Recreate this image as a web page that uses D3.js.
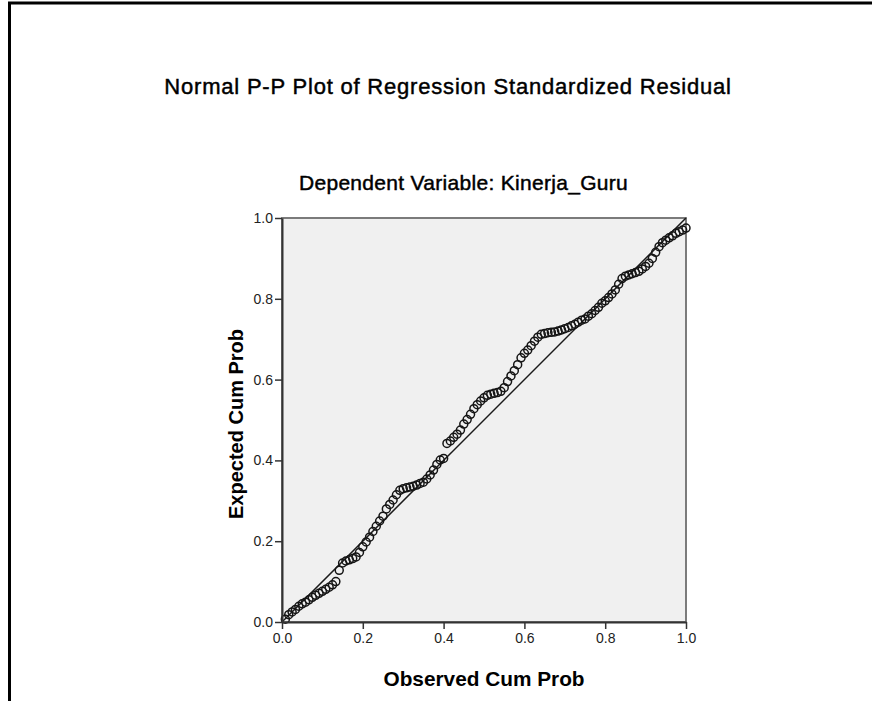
<!DOCTYPE html>
<html>
<head>
<meta charset="utf-8">
<script src="https://cdn.jsdelivr.net/npm/d3@7"></script>
<style>
  body { margin: 0; background: #fff; }
  svg { display: block; font-family: "Liberation Sans", Arial, sans-serif; }
</style>
</head>
<body>
<svg id="canvas" width="872" height="701"></svg>
<script>
// observed cumulative probability of each case (n = 120)
const observed = [
  0.0083, 0.0167, 0.0250, 0.0333, 0.0417, 0.0500, 0.0583, 0.0667, 0.0750, 0.0833,
  0.0917, 0.1000, 0.1083, 0.1167, 0.1250, 0.1333, 0.1417, 0.1500, 0.1583, 0.1667,
  0.1750, 0.1833, 0.1917, 0.2000, 0.2083, 0.2167, 0.2250, 0.2333, 0.2417, 0.2500,
  0.2583, 0.2667, 0.2750, 0.2833, 0.2917, 0.3000, 0.3083, 0.3167, 0.3250, 0.3333,
  0.3417, 0.3500, 0.3583, 0.3667, 0.3750, 0.3833, 0.3917, 0.4000, 0.4083, 0.4167,
  0.4250, 0.4333, 0.4417, 0.4500, 0.4583, 0.4667, 0.4750, 0.4833, 0.4917, 0.5000,
  0.5083, 0.5167, 0.5250, 0.5333, 0.5417, 0.5500, 0.5583, 0.5667, 0.5750, 0.5833,
  0.5917, 0.6000, 0.6083, 0.6167, 0.6250, 0.6333, 0.6417, 0.6500, 0.6583, 0.6667,
  0.6750, 0.6833, 0.6917, 0.7000, 0.7083, 0.7167, 0.7250, 0.7333, 0.7417, 0.7500,
  0.7583, 0.7667, 0.7750, 0.7833, 0.7917, 0.8000, 0.8083, 0.8167, 0.8250, 0.8333,
  0.8417, 0.8500, 0.8583, 0.8667, 0.8750, 0.8833, 0.8917, 0.9000, 0.9083, 0.9167,
  0.9250, 0.9333, 0.9417, 0.9500, 0.9583, 0.9667, 0.9750, 0.9833, 0.9917, 1.0000
];
// expected cumulative probability
const expected = [
  0.007, 0.018, 0.025, 0.031, 0.039, 0.045, 0.049, 0.055, 0.061, 0.066,
  0.071, 0.076, 0.081, 0.086, 0.092, 0.100, 0.128, 0.146, 0.151, 0.154,
  0.157, 0.161, 0.172, 0.186, 0.198, 0.210, 0.224, 0.237, 0.250, 0.262,
  0.280, 0.291, 0.302, 0.315, 0.326, 0.330, 0.332, 0.334, 0.336, 0.339,
  0.343, 0.346, 0.354, 0.364, 0.376, 0.390, 0.401, 0.405, 0.442, 0.448,
  0.457, 0.465, 0.475, 0.490, 0.501, 0.514, 0.528, 0.538, 0.547, 0.555,
  0.561, 0.564, 0.566, 0.568, 0.571, 0.580, 0.595, 0.609, 0.622, 0.637,
  0.654, 0.665, 0.673, 0.684, 0.695, 0.705, 0.712, 0.714, 0.716, 0.717,
  0.718, 0.720, 0.723, 0.726, 0.729, 0.733, 0.737, 0.742, 0.747, 0.750,
  0.757, 0.763, 0.771, 0.779, 0.789, 0.795, 0.803, 0.812, 0.822, 0.836,
  0.850, 0.856, 0.859, 0.862, 0.865, 0.868, 0.874, 0.880, 0.888, 0.900,
  0.915, 0.929, 0.939, 0.945, 0.951, 0.956, 0.962, 0.966, 0.970, 0.975
];
const tickValues = [0.0, 0.2, 0.4, 0.6, 0.8, 1.0];

const titleText = "Normal P-P Plot of Regression Standardized Residual";
const subtitleText = "Dependent Variable: Kinerja_Guru";
const xLabel = "Observed Cum Prob";
const yLabel = "Expected Cum Prob";

const svg = d3.select("#canvas");

const plot = { left: 282, top: 218, size: 404 };

const x = d3.scaleLinear().domain([0, 1]).range([plot.left, plot.left + plot.size]);
const y = d3.scaleLinear().domain([0, 1]).range([plot.top + plot.size, plot.top]);

// outer frame (runs off the right and bottom edge)
svg.append("rect")
  .attr("x", 9.5).attr("y", 3)
  .attr("width", 1000).attr("height", 1000)
  .attr("fill", "none").attr("stroke", "#000").attr("stroke-width", 3);

// plot background + top/right border
svg.append("rect")
  .attr("x", x(0)).attr("y", y(1))
  .attr("width", x(1) - x(0)).attr("height", y(0) - y(1))
  .attr("fill", "#f0f0f0").attr("stroke", "#6e6e6e").attr("stroke-width", 1.8);

// reference diagonal
svg.append("line")
  .attr("x1", x(0)).attr("y1", y(0))
  .attr("x2", x(1)).attr("y2", y(1))
  .attr("stroke", "#1a1a1a").attr("stroke-width", 1.5);

// points
svg.append("g")
  .selectAll("circle")
  .data(observed)
  .enter()
  .append("circle")
  .attr("cx", (d) => x(d))
  .attr("cy", (d, i) => y(expected[i]))
  .attr("r", 4)
  .attr("fill", "none")
  .attr("stroke", "#151515")
  .attr("stroke-width", 1.5);

// axes
let xAxis = svg.append("g")
  .attr("transform", "translate(0," + y(0) + ")")
  .call(d3.axisBottom(x).tickValues(tickValues).tickFormat(d3.format(".1f")).tickSize(7).tickSizeOuter(0).tickPadding(4));

let yAxis = svg.append("g")
  .attr("transform", "translate(" + x(0) + ",0)")
  .call(d3.axisLeft(y).tickValues(tickValues).tickFormat(d3.format(".1f")).tickSize(7).tickSizeOuter(0).tickPadding(2));

[xAxis, yAxis].forEach((a) => {
  a.select(".domain").attr("stroke", "#333").attr("stroke-width", 2);
  a.selectAll(".tick line").attr("stroke", "#333").attr("stroke-width", 1.5);
  a.selectAll(".tick text")
    .attr("fill", "#222")
    .style("font-size", "14px")
    .style("font-family", "'Liberation Sans', Arial, sans-serif");
});

// titles
svg.append("text")
  .attr("x", 448).attr("y", 94)
  .attr("text-anchor", "middle")
  .style("font-size", "22px")
  .style("letter-spacing", "0.8px")
  .attr("fill", "#000").attr("stroke", "#000").attr("stroke-width", 0.45)
  .text(titleText);

svg.append("text")
  .attr("x", 463.5).attr("y", 190)
  .attr("text-anchor", "middle")
  .style("font-size", "21px")
  .style("letter-spacing", "0.3px")
  .attr("fill", "#000").attr("stroke", "#000").attr("stroke-width", 0.45)
  .text(subtitleText);

svg.append("text")
  .attr("x", x(0.5)).attr("y", 686)
  .attr("text-anchor", "middle")
  .style("font-size", "20.8px")
  .style("font-weight", "bold")
  .attr("fill", "#000")
  .text(xLabel);

svg.append("text")
  .attr("transform", "translate(243," + 424 + ") rotate(-90)")
  .attr("text-anchor", "middle")
  .style("font-size", "20px")
  .style("font-weight", "bold")
  .attr("fill", "#000")
  .text(yLabel);
</script>
</body>
</html>
